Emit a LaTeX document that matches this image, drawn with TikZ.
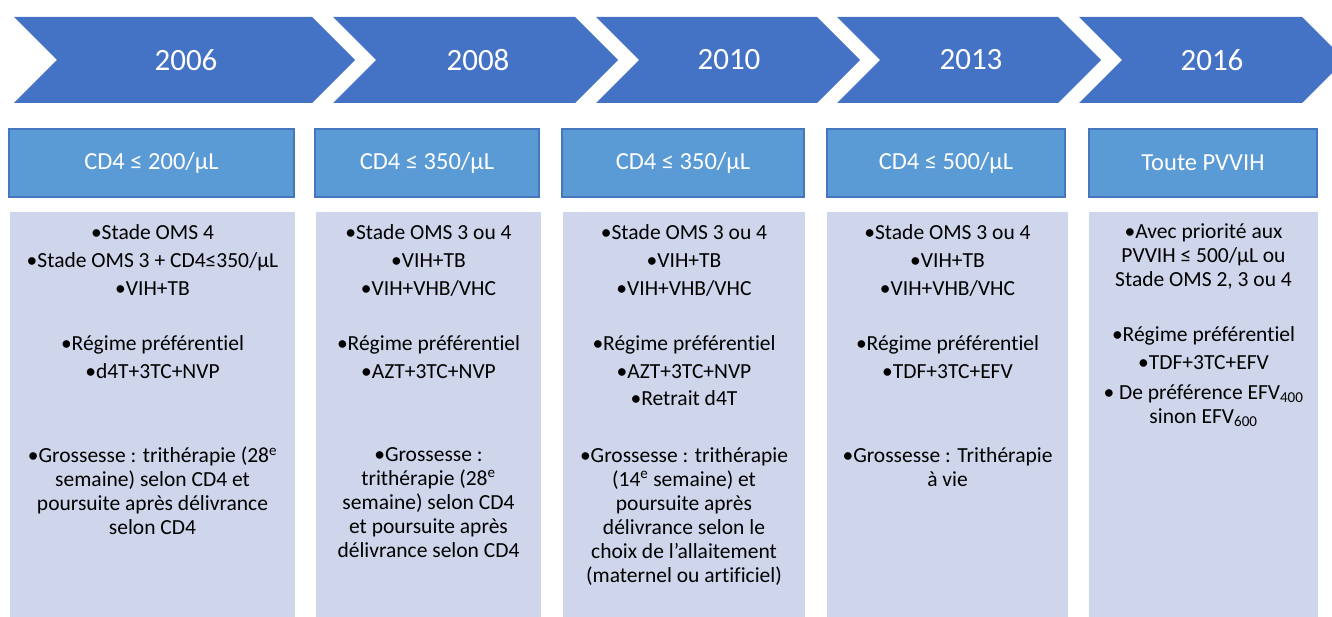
\documentclass[tikz,border=0pt]{standalone}
\usepackage{fontspec}
\setmainfont{Carlito}[Ligatures=NoCommon]
\usepackage{tikz}
\definecolor{chev_blue}{RGB}{68,114,196}
\definecolor{head_blue}{RGB}{91,155,213}
\definecolor{head_edge}{RGB}{70,118,190}
\definecolor{body_gray}{RGB}{207,213,234}

\begin{document}
\begin{tikzpicture}[x=1pt,y=-1pt]
    \tikzstyle{year}=[text=white, font=\fontsize{31}{36}\selectfont]
    \tikzstyle{crit}=[draw=head_edge, line width=1.2pt, fill=head_blue, minimum height=68pt, text=white, font=\fontsize{24.5}{30}\selectfont]
    \tikzstyle{body}=[fill=body_gray, anchor=north, minimum height=430pt, inner sep=0pt]
    \tikzstyle{txt}=[anchor=north, align=center, inner sep=0pt, text=black, font=\fontsize{21.5}{24}\selectfont]

    \clip (0,0) rectangle (1332,617);

    % chevrons
    \fill[chev_blue] (14,17)   -- (312,17)  -- (355,60)  -- (312,103)  -- (14,103)   -- (57,60)   -- cycle;
    \fill[chev_blue] (333,17)  -- (575,17)  -- (618,60)  -- (575,103)  -- (333,103)  -- (376,60)  -- cycle;
    \fill[chev_blue] (596,17)  -- (817,17)  -- (860,60)  -- (817,103)  -- (596,103)  -- (639,60)  -- cycle;
    \fill[chev_blue] (837,17)  -- (1058,17) -- (1101,60) -- (1058,103) -- (837,103)  -- (880,60)  -- cycle;
    \fill[chev_blue] (1079,17) -- (1302,17) -- (1345,60) -- (1302,103) -- (1079,103) -- (1122,60) -- cycle;

    \node[year] (y1) at (186,60)  {2006};
    \node[year] (y2) at (478,60)  {2008};
    \node[year] (y3) at (729,60)  {2010};
    \node[year] (y4) at (971,60)  {2013};
    \node[year] (y5) at (1212,60) {2016};

    \node[crit, minimum width=285pt] (h1) at (151.5,163) {CD4 ≤ 200/µL};
    \node[crit, minimum width=224pt] (h2) at (427,163)   {CD4 ≤ 350/µL};
    \node[crit, minimum width=242pt] (h3) at (683,163)   {CD4 ≤ 350/µL};
    \node[crit, minimum width=238pt] (h4) at (946,163)   {CD4 ≤ 500/µL};
    \node[crit, minimum width=228pt] (h5) at (1203,163)  {Toute PVVIH};

    \node[body, minimum width=285pt] (b1) at (152.5,212) {};
    \node[body, minimum width=225pt] (b2) at (428.5,212) {};
    \node[body, minimum width=242pt] (b3) at (684,212)   {};
    \node[body, minimum width=241pt] (b4) at (947.5,212) {};
    \node[body, minimum width=229pt] (b5) at (1203.5,212) {};

    \node[txt] (a1) at (152.5,224) {•Stade OMS 4\\[4pt]•Stade OMS 3 + CD4≤350/µL\\[4pt]•VIH+TB};
    \node[txt] (r1) at (152.5,335) {•Régime préférentiel\\[4pt]•d4T+3TC+NVP};
    \node[txt] (g1) at (152.5,447) {•Grossesse : trithérapie (28\textsuperscript{e}\\semaine) selon CD4 et\\poursuite après délivrance\\selon CD4};

    \node[txt] (a2) at (428.5,224) {•Stade OMS 3 ou 4\\[4pt]•VIH+TB\\[4pt]•VIH+VHB/VHC};
    \node[txt] (r2) at (428.5,335) {•Régime préférentiel\\[4pt]•AZT+3TC+NVP};
    \node[txt] (g2) at (428.5,447) {•Grossesse :\\trithérapie (28\textsuperscript{e}\\semaine) selon CD4\\et poursuite après\\délivrance selon CD4};

    \node[txt] (a3) at (684,224) {•Stade OMS 3 ou 4\\[4pt]•VIH+TB\\[4pt]•VIH+VHB/VHC};
    \node[txt] (r3) at (684,335) {•Régime préférentiel\\[4pt]•AZT+3TC+NVP\\[3pt]•Retrait d4T};
    \node[txt] (g3) at (684,447) {•Grossesse : trithérapie\\(14\textsuperscript{e} semaine) et\\poursuite après\\délivrance selon le\\choix de l’allaitement\\(maternel ou artificiel)};

    \node[txt] (a4) at (947.5,224) {•Stade OMS 3 ou 4\\[4pt]•VIH+TB\\[4pt]•VIH+VHB/VHC};
    \node[txt] (r4) at (947.5,335) {•Régime préférentiel\\[4pt]•TDF+3TC+EFV};
    \node[txt] (g4) at (947.5,447) {•Grossesse : Trithérapie\\à vie};

    \node[txt] (a5) at (1203.5,224) {•Avec priorité aux\\PVVIH ≤ 500/µL ou\\Stade OMS 2, 3 ou 4};
    \node[txt] (r5) at (1203.5,326) {•Régime préférentiel\\[4pt]•TDF+3TC+EFV\\[6pt]• De préférence EFV\textsubscript{400}\\sinon EFV\textsubscript{600}};
\end{tikzpicture}
\end{document}
